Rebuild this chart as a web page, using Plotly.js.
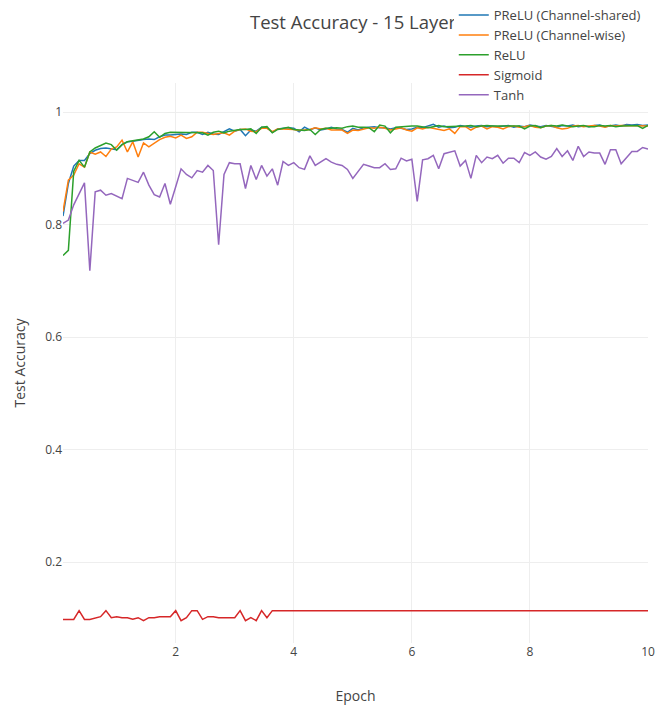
<!DOCTYPE html>
<html>
<head>
<meta charset="utf-8">
<script src="https://cdn.plot.ly/plotly-3.0.1.min.js"></script>
<style>html,body{margin:0;padding:0;background:#fff;}#chart{width:657px;height:707px;}</style>
</head>
<body>
<div id="chart"></div>
<script>
// Epoch values: 110 evaluations, one every 1/11 epoch
const nPoints = 110;
const pointsPerEpoch = 11;

const seriesNames = ["PReLU (Channel-shared)", "PReLU (Channel-wise)", "ReLU", "Sigmoid", "Tanh"];
const seriesColors = ["#1f77b4", "#ff7f0e", "#2ca02c", "#d62728", "#9467bd"];

const preluShared = [
0.815,0.873,0.904,0.914,0.914,0.926,0.932,0.935,0.936,0.934,
0.933,0.942,0.947,0.948,0.950,0.951,0.952,0.951,0.956,0.959,
0.959,0.960,0.961,0.960,0.964,0.964,0.960,0.964,0.961,0.960,
0.965,0.970,0.966,0.969,0.958,0.968,0.966,0.973,0.972,0.964,
0.970,0.971,0.972,0.971,0.965,0.973,0.968,0.972,0.968,0.970,
0.973,0.970,0.969,0.964,0.971,0.968,0.972,0.973,0.974,0.972,
0.972,0.970,0.972,0.971,0.969,0.970,0.973,0.972,0.975,0.978,
0.973,0.975,0.972,0.973,0.976,0.974,0.973,0.975,0.976,0.974,
0.975,0.974,0.975,0.976,0.973,0.975,0.974,0.977,0.975,0.974,
0.976,0.975,0.973,0.976,0.975,0.977,0.974,0.975,0.974,0.976,
0.977,0.974,0.976,0.977,0.975,0.978,0.977,0.978,0.976,0.977
];

const preluWise = [
0.823,0.879,0.888,0.908,0.902,0.929,0.925,0.929,0.921,0.934,
0.938,0.950,0.929,0.947,0.920,0.945,0.938,0.945,0.951,0.955,
0.957,0.954,0.959,0.953,0.956,0.964,0.964,0.962,0.960,0.962,
0.963,0.959,0.966,0.969,0.970,0.966,0.965,0.971,0.971,0.965,
0.970,0.970,0.970,0.969,0.967,0.968,0.969,0.972,0.970,0.971,
0.968,0.968,0.968,0.962,0.968,0.967,0.970,0.972,0.971,0.973,
0.971,0.968,0.970,0.972,0.968,0.966,0.972,0.970,0.973,0.971,
0.969,0.967,0.970,0.962,0.974,0.974,0.968,0.973,0.975,0.970,
0.974,0.973,0.970,0.974,0.975,0.973,0.974,0.976,0.973,0.972,
0.975,0.976,0.972,0.970,0.971,0.975,0.976,0.974,0.975,0.976,
0.975,0.973,0.976,0.975,0.976,0.976,0.975,0.976,0.975,0.975
];

const relu = [
0.745,0.754,0.895,0.914,0.902,0.929,0.936,0.940,0.945,0.942,
0.932,0.942,0.947,0.949,0.950,0.952,0.956,0.965,0.955,0.962,
0.964,0.964,0.964,0.964,0.964,0.963,0.963,0.959,0.964,0.966,
0.963,0.966,0.968,0.969,0.969,0.970,0.962,0.973,0.974,0.963,
0.969,0.971,0.973,0.969,0.968,0.967,0.969,0.960,0.969,0.971,
0.971,0.972,0.971,0.974,0.975,0.973,0.973,0.972,0.965,0.977,
0.975,0.963,0.973,0.974,0.974,0.975,0.975,0.973,0.972,0.974,
0.976,0.974,0.974,0.974,0.975,0.975,0.976,0.974,0.975,0.976,
0.975,0.975,0.975,0.974,0.975,0.975,0.970,0.975,0.976,0.972,
0.975,0.976,0.975,0.977,0.975,0.974,0.975,0.976,0.974,0.974,
0.976,0.975,0.976,0.974,0.975,0.975,0.976,0.976,0.971,0.976
];

const sigmoid = [
0.098,0.098,0.098,0.1135,0.098,0.098,0.101,0.1028,0.1135,0.101,
0.1028,0.101,0.101,0.0982,0.101,0.0958,0.101,0.101,0.1028,0.1028,
0.1028,0.1135,0.0958,0.101,0.1135,0.1135,0.098,0.1028,0.1028,0.101,
0.101,0.101,0.101,0.1135,0.0958,0.101,0.0958,0.1135,0.101,0.1135,
0.1135,0.1135,0.1135,0.1135,0.1135,0.1135,0.1135,0.1135,0.1135,0.1135,
0.1135,0.1135,0.1135,0.1135,0.1135,0.1135,0.1135,0.1135,0.1135,0.1135,
0.1135,0.1135,0.1135,0.1135,0.1135,0.1135,0.1135,0.1135,0.1135,0.1135,
0.1135,0.1135,0.1135,0.1135,0.1135,0.1135,0.1135,0.1135,0.1135,0.1135,
0.1135,0.1135,0.1135,0.1135,0.1135,0.1135,0.1135,0.1135,0.1135,0.1135,
0.1135,0.1135,0.1135,0.1135,0.1135,0.1135,0.1135,0.1135,0.1135,0.1135,
0.1135,0.1135,0.1135,0.1135,0.1135,0.1135,0.1135,0.1135,0.1135,0.1135
];

const tanh = [
0.802,0.808,0.835,0.855,0.874,0.718,0.858,0.861,0.852,0.855,
0.851,0.846,0.882,0.879,0.875,0.893,0.870,0.853,0.849,0.873,
0.836,0.867,0.899,0.889,0.883,0.896,0.893,0.905,0.896,0.764,
0.889,0.910,0.908,0.908,0.864,0.905,0.880,0.905,0.886,0.899,
0.870,0.912,0.905,0.910,0.901,0.898,0.922,0.905,0.911,0.917,
0.911,0.907,0.905,0.898,0.882,0.895,0.907,0.904,0.901,0.901,
0.908,0.898,0.899,0.918,0.913,0.916,0.841,0.915,0.917,0.923,
0.899,0.926,0.929,0.931,0.904,0.914,0.882,0.923,0.910,0.920,
0.917,0.923,0.909,0.918,0.918,0.910,0.928,0.923,0.929,0.920,
0.916,0.921,0.935,0.921,0.931,0.914,0.939,0.921,0.929,0.927,
0.927,0.907,0.933,0.933,0.908,0.920,0.930,0.930,0.937,0.934
];

const xTickVals = [2, 4, 6, 8, 10];
const yTickVals = [0.2, 0.4, 0.6, 0.8, 1];
const yTickText = ["0.2", "0.4", "0.6", "0.8", "1"];

const epochs = [];
for (let i = 1; i <= nPoints; i++) epochs.push(i / pointsPerEpoch);

const allSeries = [preluShared, preluWise, relu, sigmoid, tanh];
const traces = allSeries.map((ys, k) => ({
  type: "scatter",
  mode: "lines",
  name: seriesNames[k],
  x: epochs,
  y: ys,
  line: {color: seriesColors[k], width: 1.5}
}));

const layout = {
  width: 657,
  height: 707,
  font: {family: "Open Sans, sans-serif", color: "#444", size: 12},
  paper_bgcolor: "#fff",
  plot_bgcolor: "#fff",
  margin: {l: 63, r: 9, t: 83, b: 64, autoexpand: false},
  title: {text: "Test Accuracy - 15 Layers", font: {size: 18.5, color: "#444"}, xref: "paper", x: 0.5034, xanchor: "center", yref: "container", y: 0.968, yanchor: "middle"},
  xaxis: {
    title: {text: "Epoch", font: {size: 14, color: "#444"}, standoff: 32},
    range: [1 / pointsPerEpoch, 10],
    tickvals: xTickVals,
    showgrid: true, gridcolor: "#eee", zeroline: false, showline: false, ticks: ""
  },
  yaxis: {
    title: {text: "Test Accuracy", font: {size: 14, color: "#444"}},
    range: [0.056, 1.0516],
    tickvals: yTickVals,
    ticktext: yTickText,
    showgrid: true, gridcolor: "#eee", zeroline: false, showline: false, ticks: ""
  },
  showlegend: true,
  legend: {x: 0.668, xanchor: "left", y: 1.148, yanchor: "top", bgcolor: "#fff", font: {size: 13, color: "#444"}}
};

Plotly.newPlot("chart", traces, layout, {displayModeBar: false, staticPlot: true}).then(function (gd) {
  // draw the legend above the title, as in the reference
  const leg = gd.querySelector("g.legend");
  if (leg && leg.parentNode) leg.parentNode.appendChild(leg);
});
</script>
</body>
</html>
